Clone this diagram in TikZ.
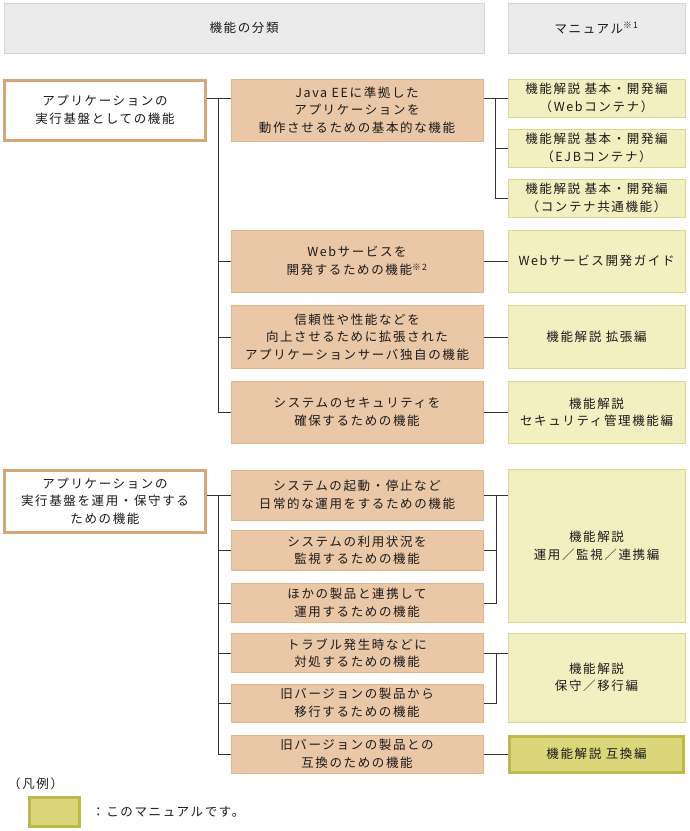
\documentclass[tikz,border=0pt]{standalone}
\usepackage{fontspec}
\setmainfont{Noto Sans CJK JP}[LetterSpace=13]
\definecolor{hdrfill}{HTML}{EBEBEB}
\definecolor{hdrline}{HTML}{D4D4D4}
\definecolor{tanline}{HTML}{D6A678}
\definecolor{midfill}{HTML}{EAC7A6}
\definecolor{midline}{HTML}{E0B68E}
\definecolor{manfill}{HTML}{F2EFC0}
\definecolor{manline}{HTML}{DAD890}
\definecolor{hifill}{HTML}{D9D779}
\definecolor{hiline}{HTML}{BDBA4C}
\definecolor{txt}{HTML}{1A1A1A}
\definecolor{conn}{HTML}{333333}
\tikzset{
  base/.style={inner sep=0pt, align=center, text=txt, font=\fontsize{12.5}{17.5}\selectfont},
  hdr/.style={base, draw=hdrline, fill=hdrfill, line width=1pt},
  grp/.style={base, draw=tanline, fill=white, line width=3pt},
  mid/.style={base, draw=midline, fill=midfill, line width=1pt, minimum width=252pt},
  man/.style={base, draw=manline, fill=manfill, line width=1pt, minimum width=177pt},
  hi/.style={base, draw=hiline, fill=hifill, line width=3pt, minimum width=174pt},
  cn/.style={draw=conn, line width=1pt},
}
\begin{document}
\begin{tikzpicture}[x=1pt,y=-1pt]
\useasboundingbox (0,0) rectangle (689,831);

% headers
\node[hdr, minimum width=480pt, minimum height=50pt] (h1) at (244,28) {機能の分類};
\node[hdr, minimum width=177pt, minimum height=50pt] (h2) at (596.5,28) {マニュアル\textsuperscript{※1}};

% group 1
\node[grp, minimum width=201pt, minimum height=60pt] (g1) at (105,110) {アプリケーションの\\実行基盤としての機能};
\node[mid, minimum height=62pt] (m1) at (357,110) {Java EEに準拠した\\アプリケーションを\\動作させるための基本的な機能};
\node[mid, minimum height=62pt] (m2) at (357,261) {Webサービスを\\開発するための機能\textsuperscript{※2}};
\node[mid, minimum height=63pt] (m3) at (357,337) {信頼性や性能などを\\向上させるために拡張された\\アプリケーションサーバ独自の機能};
\node[mid, minimum height=62pt] (m4) at (357,412) {システムのセキュリティを\\確保するための機能};

\node[man, minimum height=38pt] (r1) at (596.5,98) {機能解説 基本・開発編\\（Webコンテナ）};
\node[man, minimum height=38pt] (r2) at (596.5,148) {機能解説 基本・開発編\\（EJBコンテナ）};
\node[man, minimum height=38pt] (r3) at (596.5,198) {機能解説 基本・開発編\\（コンテナ共通機能）};
\node[man, minimum height=62pt] (r4) at (596.5,261) {Webサービス開発ガイド};
\node[man, minimum height=63pt] (r5) at (596.5,337) {機能解説 拡張編};
\node[man, minimum height=62pt] (r6) at (596.5,412) {機能解説\\セキュリティ管理機能編};

% group 2
\node[grp, minimum width=201pt, minimum height=62pt] (g2) at (105,501) {アプリケーションの\\実行基盤を運用・保守する\\ための機能};
\node[mid, minimum height=50pt] (m5) at (357,495) {システムの起動・停止など\\日常的な運用をするための機能};
\node[mid, minimum height=40pt] (m6) at (357,550) {システムの利用状況を\\監視するための機能};
\node[mid, minimum height=39pt] (m7) at (357,603) {ほかの製品と連携して\\運用するための機能};
\node[mid, minimum height=39pt] (m8) at (357,653) {トラブル発生時などに\\対処するための機能};
\node[mid, minimum height=38pt] (m9) at (357,703) {旧バージョンの製品から\\移行するための機能};
\node[mid, minimum height=38pt] (m10) at (357,754) {旧バージョンの製品との\\互換のための機能};

\node[man, minimum height=153pt] (r7) at (596.5,546) {機能解説\\運用／監視／連携編};
\node[man, minimum height=89pt] (r8) at (596.5,677.5) {機能解説\\保守／移行編};
\node[hi, minimum height=36pt] (r9) at (596.5,754) {機能解説 互換編};

% connectors group 1
\coordinate (t1) at (218,98);
\draw[cn] (g1.east |- r1.west) -- (m1.west |- r1.west);
\draw[cn] (t1) |- (m4.west);
\draw[cn] (t1 |- m2.west) -- (m2.west);
\draw[cn] (t1 |- m3.west) -- (m3.west);
\coordinate (t2) at (495,98);
\draw[cn] (m1.east |- r1.west) -- (r1.west);
\draw[cn] (t2) |- (r3.west);
\draw[cn] (t2 |- r2.west) -- (r2.west);
\draw[cn] (m2.east) -- (r4.west);
\draw[cn] (m3.east) -- (r5.west);
\draw[cn] (m4.east) -- (r6.west);

% connectors group 2
\coordinate (t3) at (218,495);
\draw[cn] (g2.east |- m5.west) -- (m5.west);
\draw[cn] (t3) |- (m10.west);
\draw[cn] (t3 |- m6.west) -- (m6.west);
\draw[cn] (t3 |- m7.west) -- (m7.west);
\draw[cn] (t3 |- m8.west) -- (m8.west);
\draw[cn] (t3 |- m9.west) -- (m9.west);
\coordinate (t4) at (496,495);
\draw[cn] (m5.east) -- (m5.east -| r7.west);
\draw[cn] (t4) |- (m7.east);
\draw[cn] (t4 |- m6.east) -- (m6.east);
\coordinate (t5) at (496,653);
\draw[cn] (m8.east) -- (m8.east -| r8.west);
\draw[cn] (t5) |- (m9.east);
\draw[cn] (m10.east) -- (r9.west);

% legend
\node[base, anchor=west] (lg) at (8,784) {（凡例）};
\node[base, draw=hiline, fill=hifill, line width=3pt, minimum width=50pt, minimum height=29pt] (lgbox) at (54.5,812) {};
\node[base, anchor=west] (lgt) at (92,812) {：このマニュアルです。};
\end{tikzpicture}
\end{document}
